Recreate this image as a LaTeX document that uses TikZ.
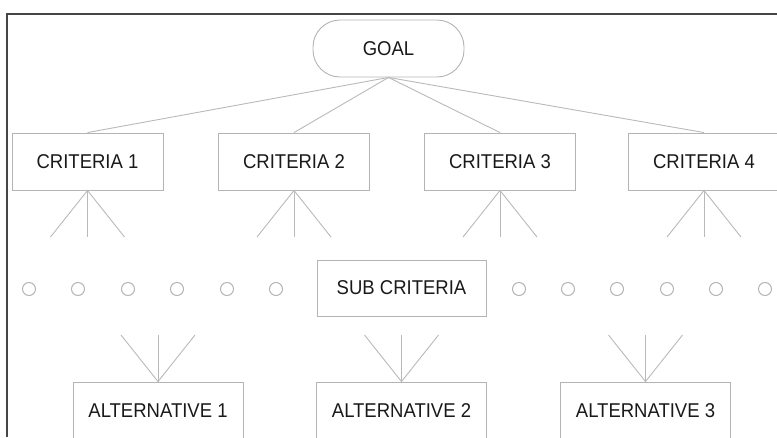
\documentclass[tikz,border=0pt]{standalone}
\usepackage{fontspec}
\setmainfont{Liberation Sans}
\definecolor{boxline}{RGB}{180,180,180}
\definecolor{conn}{RGB}{185,185,185}
\definecolor{frame}{RGB}{70,70,70}
\definecolor{txt}{RGB}{25,25,25}
\newcommand\lbl[1]{\scalebox{1}[1.08]{#1}}
\begin{document}
\begin{tikzpicture}[x=1pt,y=-1pt,
  base/.style={draw=boxline, line width=0.9pt, text=txt, font=\fontsize{18.5}{21}\selectfont, inner sep=0pt},
  goalbox/.style={base, rounded corners=27pt, minimum width=151pt, minimum height=57pt},
  critbox/.style={base, minimum width=151pt, minimum height=57pt},
  subbox/.style={base, minimum width=169pt, minimum height=56pt},
  altbox/.style={base, minimum width=170pt, minimum height=57pt},
  link/.style={draw=conn, line width=0.9pt},
  dot/.style={draw=boxline, line width=1pt, circle, minimum size=13pt, inner sep=0pt}]
\useasboundingbox (0,0) rectangle (777,437);
\draw[frame, line width=1.2pt] (777,14) -- (7,14) -- (7,437);
\node[goalbox] (goal) at (388.5,48.5) {\lbl{GOAL}};
\node[critbox] (c1) at (87.5,161.5) {\lbl{CRITERIA 1}};
\node[critbox] (c2) at (294,161.5) {\lbl{CRITERIA 2}};
\node[critbox] (c3) at (500,161.5) {\lbl{CRITERIA 3}};
\node[critbox] (c4) at (704,161.5) {\lbl{CRITERIA 4}};
\foreach \c in {c1,c2,c3,c4} \draw[link] (goal.south) -- (\c.north);
\foreach \c/\x in {c1/87.5,c2/294,c3/500,c4/704} {
  \coordinate (\c l) at (\x-37,237);
  \coordinate (\c m) at (\x,237);
  \coordinate (\c r) at (\x+37,237);
  \draw[link] (\c l) -- (\c.south) -- (\c r);
  \draw[link] (\c.south) -- (\c m);
}
\node[subbox] (sub) at (401.5,288) {\lbl{SUB CRITERIA}};
\foreach \x [count=\i] in {29,78,128,177,227,276,519,568,617,667,716,765}
  \node[dot] (d\i) at (\x,289) {};
\node[altbox] (a1) at (158,410.5) {\lbl{ALTERNATIVE 1}};
\node[altbox] (a2) at (401.5,410.5) {\lbl{ALTERNATIVE 2}};
\node[altbox] (a3) at (645.5,410.5) {\lbl{ALTERNATIVE 3}};
\foreach \a/\x in {a1/158,a2/401.5,a3/645.5} {
  \coordinate (\a l) at (\x-37,335);
  \coordinate (\a m) at (\x,335);
  \coordinate (\a r) at (\x+37,335);
  \draw[link] (\a l) -- (\a.north) -- (\a r);
  \draw[link] (\a m) -- (\a.north);
}
\end{tikzpicture}
\end{document}
